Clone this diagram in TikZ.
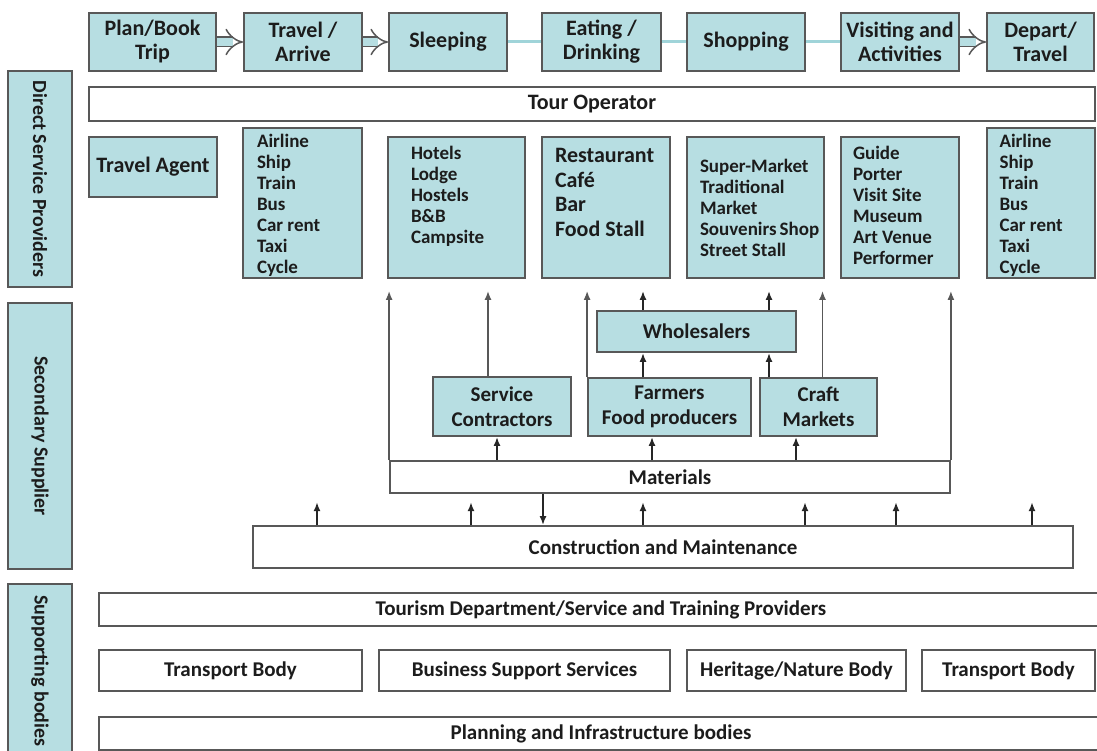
\documentclass[tikz,border=0pt]{standalone}
\usepackage{fontspec}
\setmainfont{Carlito}
\usepackage{tikz}
\usetikzlibrary{arrows.meta,positioning}

\definecolor{boxfill}{RGB}{183,222,226}
\definecolor{boxline}{RGB}{88,88,88}
\definecolor{flowline}{RGB}{160,212,217}
\definecolor{inktext}{RGB}{28,28,28}

\tikzset{
  cell/.style={draw=boxline, line width=1.8pt, fill=boxfill, text=inktext,
    font=\bfseries\fontsize{22}{24}\selectfont, align=flush center, inner sep=0pt},
  plain/.style={cell, fill=white},
  listing/.style={cell, align=flush left, font=\bfseries\fontsize{19}{21}\selectfont},
  side/.style={cell, rotate=-90, font=\bfseries\fontsize{20}{22}\selectfont},
  stepto/.style={draw=boxline, line width=1.5pt, double=boxfill, double distance=8pt, -{Implies}},
  link/.style={draw=flowline, line width=3pt},
  feed/.style={draw=boxline, line width=1.6pt, -{Latex[length=9pt,width=7pt]}, shorten >=12pt},
  lift/.style={draw=black!85, line width=2.2pt, -{Latex[length=9pt,width=7pt]}},
}

\begin{document}
\begin{tikzpicture}[x=1pt, y=-1pt]
  \useasboundingbox (0,0) rectangle (1097,751);

  % side bands
  \node[side, minimum width=216pt, minimum height=64pt] (dsp) at (40,179) {Direct Service Providers};
  \node[side, minimum width=266pt, minimum height=64pt] (sec) at (40,436) {Secondary Supplier};
  \node[side, minimum width=174pt, minimum height=64pt] (sup) at (40,671) {Supporting bodies};

  % visitor journey
  \node[cell, minimum width=127pt, minimum height=58pt] (plan) at (152.5,42) {Plan/Book\\Trip};
  \node[cell, minimum width=118pt, minimum height=58pt] (arrive) at (303,42) {Travel /\\Arrive};
  \node[cell, minimum width=118pt, minimum height=58pt] (sleep) at (448,42) {Sleeping};
  \node[cell, minimum width=119pt, minimum height=58pt] (eat) at (601.5,42) {Eating /\\Drinking};
  \node[cell, minimum width=118pt, minimum height=58pt] (shop) at (746,42) {Shopping};
  \node[cell, minimum width=118pt, minimum height=58pt] (visit) at (900,42) {Visiting and\\Activities};
  \node[cell, minimum width=107pt, minimum height=58pt] (depart) at (1040.5,42) {Depart/\\Travel};
  \draw[stepto] (plan) -- (arrive);
  \draw[stepto] (arrive) -- (sleep);
  \draw[link] (sleep) -- (eat);
  \draw[link] (eat) -- (shop);
  \draw[link] (shop) -- (visit);
  \draw[stepto] (visit) -- (depart);

  \node[plain, minimum width=1006pt, minimum height=34pt] (tour) at (592,104) {Tour Operator};

  % direct providers
  \node[cell, minimum width=128pt, minimum height=60pt] (agent) at (153,167) {Travel Agent};
  \node[listing, minimum width=119pt, minimum height=150pt, text width=91pt, text height=20pt, text depth=130pt]
    (air1) at (302.5,203) {Airline\\Ship\\Train\\Bus\\Car rent\\Taxi\\Cycle};
  \node[listing, minimum width=137pt, minimum height=141pt, text width=91pt, text height=23pt, text depth=118pt]
    (hotel) at (456.5,207.5) {Hotels\\Lodge\\Hostels\\B\&B\\Campsite};
  \node[listing, font=\bfseries\fontsize{22}{24.5}\selectfont, minimum width=128pt, minimum height=141pt,
    text width=102pt, text height=26pt, text depth=115pt]
    (food) at (606,207.5) {Restaurant\\Café\\Bar\\Food Stall};
  \node[listing, minimum width=137pt, minimum height=141pt, text width=111pt, text height=36pt, text depth=105pt]
    (market) at (755.5,207.5) {Super-Market\\Traditional\\Market\\Souvenirs~Shop\\Street Stall};
  \node[listing, minimum width=118pt, minimum height=141pt, text width=94pt, text height=23pt, text depth=118pt]
    (guide) at (900,207.5) {Guide\\Porter\\Visit Site\\Museum\\Art Venue\\Performer};
  \node[listing, minimum width=108pt, minimum height=150pt, text width=83pt, text height=20pt, text depth=130pt]
    (air2) at (1041,203) {Airline\\Ship\\Train\\Bus\\Car rent\\Taxi\\Cycle};

  % secondary suppliers
  \node[cell, font=\bfseries\fontsize{21}{25}\selectfont, minimum width=199pt, minimum height=41pt] (whole) at (696.5,331.5) {Wholesalers};
  \node[cell, font=\bfseries\fontsize{21}{25}\selectfont, minimum width=138pt, minimum height=59pt] (serv) at (502,406.5) {Service\\Contractors};
  \node[cell, font=\bfseries\fontsize{21}{25}\selectfont, minimum width=163pt, minimum height=58pt] (farm) at (669.5,407) {Farmers\\Food producers};
  \node[cell, font=\bfseries\fontsize{21}{25}\selectfont, minimum width=117pt, minimum height=58pt] (craft) at (818.5,407) {Craft\\Markets};
  \node[plain, font=\bfseries\fontsize{21}{25}\selectfont, minimum width=560pt, minimum height=32pt] (mat) at (670,477) {Materials};
  \node[plain, font=\bfseries\fontsize{21}{25}\selectfont, minimum width=820pt, minimum height=42pt] (cons) at (663,547) {Construction and Maintenance};

  \draw[feed] (mat.north west) -- (mat.north west |- hotel.south); % left rail
  \draw[feed] ([xshift=-14pt]serv.north) -- ([xshift=-14pt]serv.north |- hotel.south);
  \draw[feed] (farm.north west) -- (farm.north west |- food.south);
  \draw[lift, shorten >=12pt] ([xshift=-53.5pt]whole.north) -- ([xshift=-53.5pt]whole.north |- food.south);
  \draw[lift, shorten >=12pt] ([xshift=72.5pt]whole.north) -- ([xshift=72.5pt]whole.north |- market.south);
  \draw[feed] ([xshift=4pt]craft.north) -- ([xshift=4pt]craft.north |- market.south);
  \draw[feed] (mat.north east) -- (mat.north east |- guide.south); % right rail
  \draw[lift] ([xshift=-26.5pt]farm.north) -- ([xshift=-26.5pt]farm.north |- whole.south);
  \draw[lift] ([xshift=-49.5pt]craft.north) -- ([xshift=-49.5pt]craft.north |- whole.south);
  \draw[lift] ([xshift=-5pt]serv.south |- mat.north) -- ([xshift=-5pt]serv.south);
  \draw[lift] ([xshift=-17.5pt]farm.south |- mat.north) -- ([xshift=-17.5pt]farm.south);
  \draw[lift] ([xshift=-22.5pt]craft.south |- mat.north) -- ([xshift=-22.5pt]craft.south);
  \draw[lift] ([xshift=-127pt]mat.south) -- ([xshift=-127pt]mat.south |- cons.north);
  \foreach \x in {317,471,643,805,896,1032}
    \draw[lift] (\x,0 |- cons.north) -- ++(0,-23);

  % supporting bodies
  \node[plain, font=\bfseries\fontsize{21}{25}\selectfont, minimum width=1004pt, minimum height=33pt] (dept) at (601,609.5) {Tourism Department/Service and Training Providers};
  \node[plain, font=\bfseries\fontsize{21}{25}\selectfont, minimum width=263pt, minimum height=41pt] (road1) at (230.5,670.5) {Transport Body};
  \node[plain, font=\bfseries\fontsize{21}{25}\selectfont, minimum width=291pt, minimum height=41pt] (biz) at (524.5,670.5) {Business Support Services};
  \node[plain, font=\bfseries\fontsize{21}{25}\selectfont, minimum width=219pt, minimum height=41pt] (heritage) at (796.5,670.5) {Heritage/Nature Body};
  \node[plain, font=\bfseries\fontsize{21}{25}\selectfont, minimum width=173pt, minimum height=41pt] (road2) at (1008.5,670.5) {Transport Body};
  \node[plain, font=\bfseries\fontsize{21}{25}\selectfont, minimum width=1004pt, minimum height=33pt] (plan2) at (601,733.5) {Planning and Infrastructure bodies};
\end{tikzpicture}
\end{document}
